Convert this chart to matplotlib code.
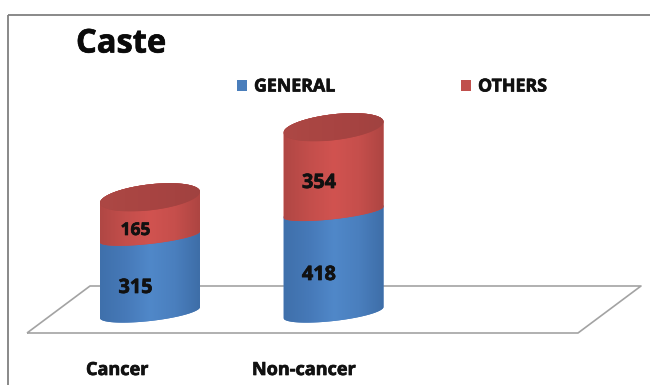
import numpy as np
import matplotlib
matplotlib.use("Agg")
import matplotlib.pyplot as plt
import matplotlib.patheffects as pe
from matplotlib.colors import LinearSegmentedColormap

categories = ["Cancer", "Non-cancer"]
general = [315, 418]
others = [165, 354]
series_names = ["GENERAL", "OTHERS"]
title = "Caste"

W, H = 650, 385
X0, XS = 150.0, 183.5     # pixel of category 0, pixels per category
Y0, YS = 312.5, 0.24      # pixel of value 0, pixels per unit
HALF_W = 50.0 / XS        # half cylinder width (data)
CAP_SEMI = 13.0 / YS      # semi-minor of the top face (data)
ARC_SEMI = 7.0 / YS       # semi-minor of the front arcs (data)
BASE_SEMI = 8.5 / YS      # semi-minor of the bottom arc (data)
TILT = 5.5 / YS           # rise from centre to right edge (data)
FONT = "Open Sans"
HEAVY = [pe.withStroke(linewidth=0.5, foreground="#111111")]

fig = plt.figure(figsize=(W / 100, H / 100), dpi=100, facecolor="white")
ax = fig.add_axes([0, 0, 1, 1])
ax.set_xlim(-X0 / XS, (W - X0) / XS)
ax.set_ylim((Y0 - H) / YS, Y0 / YS)
ax.axis("off")


def px(x, y):
    return (x - X0) / XS, (Y0 - y) / YS


def line(xs, ys, color, lw, z=1):
    pts = [px(a, b) for a, b in zip(xs, ys)]
    return ax.plot(*zip(*pts), color=color, lw=lw, zorder=z,
                   solid_capstyle="butt")[0]


def arc(cx, level, t, semi):
    return (cx + HALF_W * np.cos(t),
            level + semi * np.sin(t) + TILT * np.cos(t))


def shaded(outline, stops, cx, z):
    poly = ax.fill(outline[0], outline[1], color=stops[1], lw=0, zorder=z)[0]
    cmap = LinearSegmentedColormap.from_list("s", stops)
    ylo, yhi = outline[1].min(), outline[1].max()
    im = ax.imshow(np.linspace(0, 1, 128)[None, :], cmap=cmap, aspect="auto",
                   extent=(cx - HALF_W, cx + HALF_W, ylo, yhi), zorder=z,
                   interpolation="bilinear")
    im.set_clip_path(poly)


def body(cx, low, high, low_semi, stops, z):
    tf = np.linspace(np.pi, 2 * np.pi, 80)   # front (lower) arc, left to right
    tb = np.linspace(0, np.pi, 80)           # back (upper) arc, right to left
    xa, ya = arc(cx, low, tf, low_semi)
    xb, yb = arc(cx, high, tb, CAP_SEMI)
    shaded((np.r_[xa, xb], np.r_[ya, yb]), stops, cx, z)


blue_stops = ["#3f70ab", "#4679b8", "#5088c9", "#4a7fbe", "#3e6ea8"]
red_stops = ["#b04744", "#c34e4b", "#d15350", "#c64f4c", "#ad4542"]
cap_stops = ["#ad4845", "#aa4643", "#a84442", "#a54341", "#a04240"]

# chart frame: top and left rules only
line([8, 8], [H, 14.5], "#808080", 1.3)
line([8, W], [14.5, 14.5], "#808080", 1.3)

# floor
line([27, 90, 641, 578, 27], [333, 286, 286, 333, 333], "#a3a3a3", 1.2)

# cylinders
xpos = np.arange(len(categories))
for i, (g, o) in enumerate(zip(general, others)):
    body(xpos[i], 0, g, BASE_SEMI, blue_stops, 3)
    body(xpos[i], g, g + o, ARC_SEMI, red_stops, 4)
    xs, ys = arc(xpos[i], g + o, np.linspace(0, 2 * np.pi, 160), CAP_SEMI)
    shaded((xs, ys), cap_stops, xpos[i], 5)

# value labels (pixel centres of the text)
label_px = {(0, 0): (135.5, 288), (1, 0): (319, 275),
            (0, 1): (135.5, 230), (1, 1): (319, 183)}
for (i, s), (tx, ty) in label_px.items():
    v = (general, others)[s][i]
    ax.text(*px(tx, ty), str(v), ha="center", va="center", family=FONT,
            fontweight="bold", color="#111111", zorder=6,
            fontsize=14.3 if v != 165 else 12.5, path_effects=HEAVY)

# category labels
for cat, tx in zip(categories, [117, 303.5]):
    ax.text(*px(tx, 370), cat, ha="center", va="center", family=FONT,
            fontweight="bold", fontsize=13, color="#111111", path_effects=HEAVY)

# title
ax.text(*px(76, 44), title, ha="left", va="center", family=FONT,
        fontweight="bold", fontsize=23.5, color="#0a0a0a", path_effects=HEAVY)

# legend
for name, col, sx in zip(series_names, ["#4a7ebb", "#c0504d"], [237, 461]):
    x0, y0 = px(sx, 91)
    x1, y1 = px(sx + 10, 80)
    ax.fill([x0, x1, x1, x0], [y0, y0, y1, y1], color=col, lw=0)
    ax.text(*px(sx + 17, 86.5), name, ha="left", va="center", family=FONT,
            fontweight="bold", fontsize=12.8, color="#111111", path_effects=HEAVY)

fig.savefig("out.png", dpi=100, facecolor="white")
